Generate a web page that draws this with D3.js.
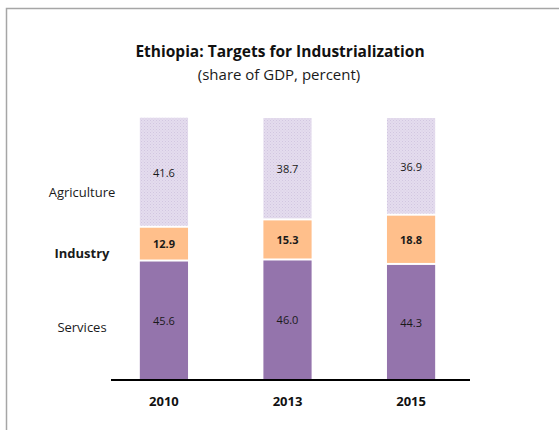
<!DOCTYPE html>
<html>
<head>
<meta charset="utf-8">
<script src="https://cdn.jsdelivr.net/npm/d3@7"></script>
<style>
  html, body { margin: 0; padding: 0; background: #fff; }
  svg { display: block; font-family: "Open Sans", "Noto Sans", sans-serif; }
</style>
</head>
<body>
<svg id="chart" width="559" height="430"></svg>
<script>
// Sector shares of GDP (percent), stacked bottom to top
const years = ["2010", "2013", "2015"];
const services = [45.6, 46.0, 44.3];
const industry = [12.9, 15.3, 18.8];
const agriculture = [41.6, 38.7, 36.9];
const sectorNames = ["Services", "Industry", "Agriculture"];

const svg = d3.select("#chart");

// Frame
svg.append("path")
  .attr("d", "M6.5,430 V8.5 H559")
  .attr("fill", "none")
  .attr("stroke", "#a6a6a6")
  .attr("stroke-width", 1.5);

// Dotted fill for the agriculture segments
const defs = svg.append("defs");
const pat = defs.append("pattern")
  .attr("id", "agriDots")
  .attr("patternUnits", "userSpaceOnUse")
  .attr("width", 3).attr("height", 3);
pat.append("rect").attr("width", 3).attr("height", 3).attr("fill", "#e4dcee");
pat.append("rect").attr("width", 1).attr("height", 1).attr("fill", "#d2c6e0");
pat.append("rect").attr("x", 1.5).attr("y", 1.5).attr("width", 1).attr("height", 1).attr("fill", "#d8cde4");

const x = d3.scaleBand()
  .domain(years)
  .range([104, 471])
  .paddingInner(0.61)
  .paddingOuter(0.29);

const y = d3.scaleLinear()
  .domain([0, 100])
  .range([380, 118]);

const rows = years.map((yr, i) => ({
  year: yr,
  Services: services[i],
  Industry: industry[i],
  Agriculture: agriculture[i]
}));

const series = d3.stack().keys(sectorNames)(rows);

const fills = {
  Services: "#9474ac",
  Industry: "#ffbf8b",
  Agriculture: "url(#agriDots)"
};

// White seams between stacked segments
const gap = 1;
const layers = svg.append("g").selectAll("g")
  .data(series)
  .join("g")
  .attr("fill", d => fills[d.key]);

layers.selectAll("rect")
  .data(d => d.map(p => ({ key: d.key, p })))
  .join("rect")
  .attr("x", d => x(d.p.data.year))
  .attr("width", x.bandwidth())
  .attr("y", d => y(d.p[1]) + (d.key === "Agriculture" ? 0 : gap))
  .attr("height", d => y(d.p[0]) - y(d.p[1]) - (d.key === "Industry" ? 2 * gap : gap));

// Value labels in each segment
layers.selectAll("text")
  .data(d => d.map(p => ({ key: d.key, p })))
  .join("text")
  .attr("x", d => x(d.p.data.year) + x.bandwidth() / 2)
  .attr("y", d => (y(d.p[0]) + y(d.p[1])) / 2)
  .attr("dy", "0.42em")
  .attr("text-anchor", "middle")
  .attr("fill", "#1a1a1a")
  .attr("font-size", 11)
  .attr("font-weight", d => d.key === "Industry" ? "bold" : "normal")
  .text(d => d.p.data[d.key].toFixed(1));

// Sector names beside the first bar
const labelY = { Agriculture: 192, Industry: 253, Services: 327 };
svg.append("g").selectAll("text")
  .data(sectorNames)
  .join("text")
  .attr("x", 82)
  .attr("y", d => labelY[d])
  .attr("dy", "0.36em")
  .attr("text-anchor", "middle")
  .attr("fill", "#1a1a1a")
  .attr("font-size", 13)
  .attr("font-weight", d => d === "Industry" ? "bold" : "normal")
  .text(d => d);

// Category axis
const xAxis = d3.axisBottom(x).tickSize(0).tickPadding(17);
const gx = svg.append("g")
  .attr("transform", "translate(0,380)")
  .call(xAxis);
gx.select(".domain").remove();
gx.append("line")
  .attr("x1", 111).attr("x2", 470)
  .attr("stroke", "#000").attr("stroke-width", 2);
gx.selectAll(".tick text")
  .attr("font-family", "\"Open Sans\", \"Noto Sans\", sans-serif")
  .attr("font-size", 13)
  .attr("font-weight", "bold")
  .attr("fill", "#111");

// Titles
svg.append("text")
  .attr("x", 280).attr("y", 57)
  .attr("text-anchor", "middle")
  .attr("font-size", 15.5)
  .attr("font-weight", "bold")
  .attr("fill", "#111")
  .text("Ethiopia: Targets for Industrialization");
svg.append("text")
  .attr("x", 279).attr("y", 80)
  .attr("text-anchor", "middle")
  .attr("font-size", 15)
  .attr("fill", "#1a1a1a")
  .text("(share of GDP, percent)");
</script>
</body>
</html>
